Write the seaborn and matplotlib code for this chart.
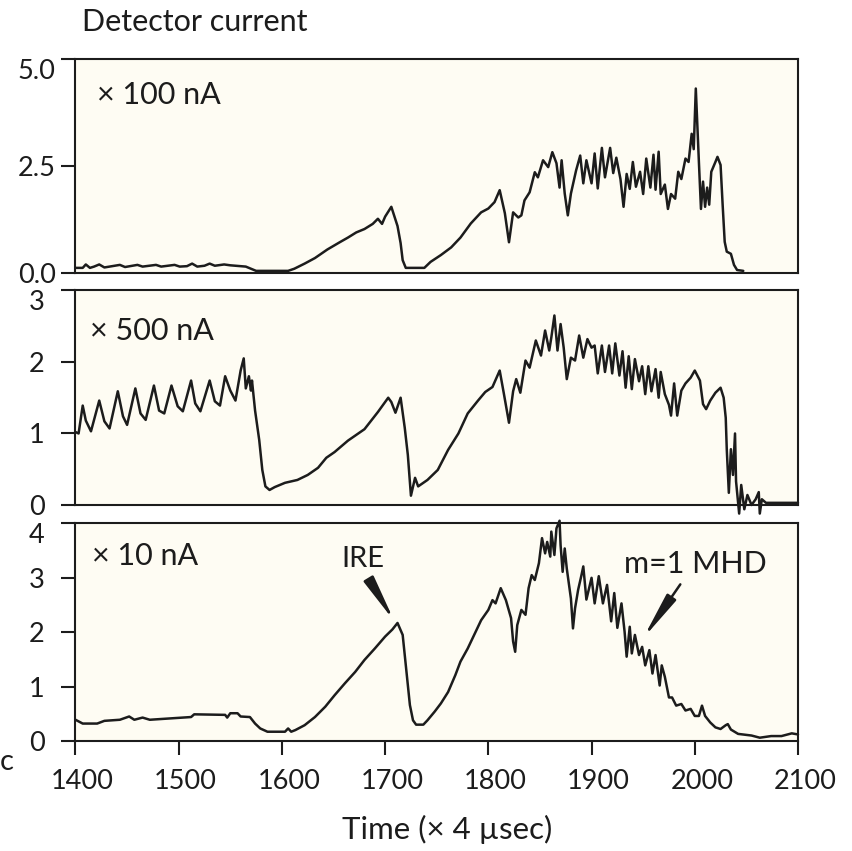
import matplotlib
matplotlib.use("Agg")
import matplotlib.pyplot as plt
import matplotlib.transforms as mtransforms
import seaborn as sns
import pandas as pd

# Detector current traces, time in units of 4 microseconds
t_100nA = [1400, 1407, 1410, 1414, 1418, 1423, 1428, 1443, 1448, 1460,
           1465, 1478, 1483, 1496, 1501, 1508, 1513, 1518, 1525, 1530,
           1535, 1544, 1550, 1565, 1575, 1606, 1612, 1622, 1632, 1644,
           1656, 1664, 1672, 1680, 1688, 1693, 1697, 1700, 1706, 1710,
           1712, 1715, 1717, 1720, 1738, 1744, 1754, 1764, 1773, 1783,
           1793, 1800, 1806, 1811, 1816, 1820, 1824, 1829, 1832, 1835,
           1840, 1845, 1848, 1853, 1858, 1862, 1866, 1869, 1871, 1874,
           1877, 1880, 1885, 1889, 1892, 1895, 1900, 1903, 1906, 1910,
           1913, 1918, 1921, 1924, 1928, 1931, 1934, 1937, 1940, 1943,
           1947, 1950, 1953, 1957, 1960, 1962, 1965, 1967, 1971, 1974,
           1977, 1981, 1984, 1987, 1991, 1994, 1997, 1999, 2001, 2004,
           2006, 2008, 2010, 2012, 2014, 2016, 2020, 2022, 2025, 2027,
           2029, 2031, 2035, 2038, 2041, 2047]
i_100nA = [0.12, 0.12, 0.20, 0.12, 0.15, 0.20, 0.13, 0.19, 0.14, 0.19,
           0.15, 0.19, 0.15, 0.19, 0.15, 0.16, 0.22, 0.15, 0.17, 0.22,
           0.17, 0.20, 0.18, 0.15, 0.05, 0.05, 0.10, 0.22, 0.35, 0.55,
           0.72, 0.83, 0.95, 1.03, 1.15, 1.27, 1.15, 1.32, 1.55, 1.25,
           1.10, 0.70, 0.30, 0.12, 0.12, 0.26, 0.42, 0.60, 0.83, 1.16,
           1.42, 1.51, 1.66, 1.94, 1.40, 0.72, 1.42, 1.30, 1.35, 1.70,
           1.89, 2.36, 2.24, 2.64, 2.48, 2.83, 2.57, 2.00, 2.64, 1.86,
           1.35, 1.86, 2.40, 2.75, 2.10, 2.64, 2.10, 2.80, 1.98, 2.93,
           2.24, 2.93, 2.34, 2.70, 2.20, 1.55, 2.32, 1.97, 2.60, 2.02,
           2.37, 1.85, 2.68, 2.00, 2.77, 1.95, 2.84, 1.85, 2.07, 1.50,
           1.85, 1.74, 2.37, 2.20, 2.68, 2.60, 3.26, 2.90, 4.32, 2.60,
           1.50, 2.14, 1.55, 2.00, 1.60, 2.37, 2.60, 2.72, 2.53, 1.60,
           0.73, 0.50, 0.45, 0.19, 0.07, 0.05]

t_500nA = [1400, 1403, 1407, 1410, 1415, 1423, 1428, 1433, 1441, 1446,
           1450, 1458, 1463, 1468, 1476, 1481, 1486, 1493, 1499, 1504,
           1512, 1516, 1521, 1530, 1535, 1540, 1545, 1550, 1555, 1560,
           1563, 1565, 1568, 1570, 1571, 1574, 1578, 1581, 1584, 1588,
           1593, 1603, 1615, 1625, 1635, 1643, 1651, 1664, 1680, 1693,
           1703, 1706, 1710, 1715, 1719, 1722, 1725, 1729, 1732, 1741,
           1751, 1761, 1771, 1780, 1790, 1797, 1804, 1811, 1815, 1820,
           1824, 1827, 1831, 1836, 1840, 1846, 1851, 1855, 1859, 1861,
           1864, 1867, 1870, 1873, 1876, 1880, 1884, 1888, 1892, 1896,
           1900, 1903, 1906, 1910, 1913, 1917, 1920, 1923, 1927, 1930,
           1933, 1936, 1939, 1942, 1946, 1949, 1952, 1955, 1958, 1962,
           1965, 1967, 1971, 1975, 1977, 1980, 1983, 1987, 1991, 1996,
           2000, 2005, 2008, 2011, 2015, 2020, 2025, 2028, 2030, 2031,
           2033, 2035, 2037, 2039, 2040, 2043, 2045, 2048, 2051, 2055,
           2059, 2062, 2063, 2065, 2069, 2100]
i_500nA = [1.02, 1.00, 1.39, 1.18, 1.03, 1.46, 1.17, 1.07, 1.59, 1.24,
           1.12, 1.63, 1.28, 1.19, 1.67, 1.32, 1.28, 1.67, 1.38, 1.31,
           1.74, 1.42, 1.31, 1.74, 1.45, 1.39, 1.80, 1.60, 1.46, 1.88,
           2.05, 1.63, 1.80, 1.60, 1.74, 1.32, 0.91, 0.49, 0.26, 0.21,
           0.25, 0.31, 0.35, 0.42, 0.52, 0.66, 0.74, 0.90, 1.06, 1.30,
           1.50, 1.44, 1.29, 1.50, 1.08, 0.70, 0.13, 0.38, 0.26, 0.35,
           0.49, 0.77, 1.00, 1.28, 1.46, 1.58, 1.65, 1.88, 1.56, 1.15,
           1.59, 1.76, 1.57, 2.02, 1.92, 2.30, 2.09, 2.44, 2.16, 2.34,
           2.65, 2.16, 2.53, 2.20, 1.76, 2.06, 2.02, 2.37, 2.06, 2.32,
           2.20, 2.23, 1.84, 2.23, 1.86, 2.23, 1.84, 2.26, 1.81, 2.15,
           1.64, 2.08, 1.62, 2.04, 1.73, 1.94, 1.55, 1.94, 1.59, 1.90,
           1.50, 1.86, 1.55, 1.40, 1.25, 1.70, 1.25, 1.60, 1.70, 1.78,
           1.88, 1.74, 1.41, 1.34, 1.46, 1.57, 1.64, 1.50, 1.22, 0.78,
           0.17, 0.78, 0.42, 1.00, 0.33, -0.12, 0.28, -0.06, 0.14, 0.00,
           0.08, 0.18, -0.12, 0.08, 0.03, 0.03]

t_10nA = [1400, 1407, 1421, 1428, 1443, 1452, 1457, 1465, 1472, 1512,
          1515, 1545, 1547, 1550, 1557, 1560, 1569, 1574, 1579, 1586,
          1603, 1606, 1609, 1613, 1622, 1632, 1642, 1651, 1661, 1671,
          1680, 1690, 1700, 1707, 1712, 1717, 1720, 1724, 1727, 1730,
          1737, 1741, 1748, 1754, 1761, 1768, 1773, 1780, 1787, 1793,
          1800, 1804, 1807, 1812, 1817, 1822, 1824, 1826, 1828, 1832,
          1836, 1839, 1842, 1845, 1849, 1852, 1855, 1857, 1860, 1861,
          1864, 1866, 1869, 1870, 1872, 1874, 1876, 1880, 1882, 1884,
          1887, 1890, 1892, 1895, 1900, 1903, 1907, 1911, 1915, 1919,
          1922, 1925, 1929, 1932, 1934, 1937, 1939, 1942, 1946, 1949,
          1952, 1956, 1959, 1962, 1966, 1968, 1971, 1975, 1978, 1982,
          1987, 1991, 1996, 2000, 2004, 2007, 2010, 2015, 2020, 2025,
          2030, 2032, 2035, 2042, 2055, 2063, 2074, 2084, 2094, 2100]
i_10nA = [0.39, 0.32, 0.32, 0.37, 0.39, 0.45, 0.39, 0.43, 0.39, 0.44,
          0.49, 0.48, 0.43, 0.51, 0.51, 0.45, 0.44, 0.32, 0.23, 0.17,
          0.17, 0.23, 0.17, 0.20, 0.29, 0.44, 0.63, 0.84, 1.06, 1.27,
          1.49, 1.70, 1.92, 2.05, 2.17, 1.95, 1.40, 0.66, 0.38, 0.30,
          0.30, 0.38, 0.54, 0.69, 0.90, 1.21, 1.46, 1.70, 1.98, 2.22,
          2.41, 2.59, 2.53, 2.81, 2.59, 2.26, 1.83, 1.64, 2.13, 2.41,
          2.32, 2.81, 3.05, 2.96, 3.27, 3.73, 3.45, 3.66, 3.39, 3.85,
          3.42, 3.91, 4.05, 3.60, 3.11, 3.54, 3.17, 2.62, 2.07, 2.44,
          2.78, 3.03, 3.21, 2.60, 3.00, 2.53, 3.03, 2.53, 2.87, 2.20,
          2.72, 2.08, 2.53, 2.01, 1.55, 2.10, 1.61, 1.95, 1.58, 1.73,
          1.39, 1.67, 1.24, 1.58, 1.02, 1.39, 1.18, 0.80, 0.80, 0.65,
          0.68, 0.56, 0.59, 0.46, 0.46, 0.65, 0.46, 0.34, 0.25, 0.22,
          0.29, 0.31, 0.21, 0.13, 0.10, 0.06, 0.09, 0.09, 0.14, 0.12]

scale_labels = ["\u00d7 100 nA", "\u00d7 500 nA", "\u00d7 10 nA"]
y_ticks = [[0.0, 2.5, 5.0], [0, 1, 2, 3], [0, 1, 2, 3, 4]]
y_tick_labels = [["0.0", "2.5", "5.0"], ["0", "1", "2", "3"], ["0", "1", "2", "3", "4"]]
y_limits = [(0, 5), (0, 3), (0, 4)]
x_ticks = [1400, 1500, 1600, 1700, 1800, 1900, 2000, 2100]

sns.set_theme(style="ticks")
plt.rcParams["font.family"] = ["Lato", "DejaVu Sans"]

INK = "#1c1c1c"
PAPER = "#fefcf3"
TICK_FS = 19.5

fig = plt.figure(figsize=(8.53, 8.51), dpi=100)
fig.patch.set_facecolor("white")

# stacked panel boxes: [left, bottom, width, height] in figure fractions
boxes = [
    [0.0885, 0.6792, 0.847, 0.2509],
    [0.0885, 0.4066, 0.847, 0.2521],
    [0.0885, 0.1293, 0.847, 0.2556],
]
label_pos = [(0.030, 0.79), (0.020, 0.767), (0.023, 0.81)]

series = [(t_100nA, i_100nA), (t_500nA, i_500nA), (t_10nA, i_10nA)]
axes = []
for k, (box, (t, cur)) in enumerate(zip(boxes, series)):
    ax = fig.add_axes(box)
    ax.set_facecolor(PAPER)
    df = pd.DataFrame({"time": t, "current": cur})
    sns.lineplot(data=df, x="time", y="current", ax=ax, color=INK,
                 linewidth=1.8, estimator=None, sort=False, clip_on=False)
    ax.set_xlim(1400, 2100)
    ax.set_ylim(*y_limits[k])
    ax.set_xlabel("")
    ax.set_ylabel("")
    ax.set_yticks(y_ticks[k])
    ax.set_yticklabels(y_tick_labels[k])
    for sp in ax.spines.values():
        sp.set_visible(True)
        sp.set_color(INK)
        sp.set_linewidth(1.5)
    ax.tick_params(axis="y", direction="out", length=10, width=1.5,
                   color=INK, labelsize=TICK_FS, labelcolor=INK, pad=18)
    labels = ax.get_yticklabels()
    for lab in labels:
        lab.set_horizontalalignment("center")
    # the topmost label hangs below its tick so it clears the panel above
    labels[-1].set_verticalalignment("top")
    ax.text(*label_pos[k], scale_labels[k], transform=ax.transAxes,
            fontsize=22, color=INK, ha="left", va="baseline")
    axes.append(ax)

for ax in axes[:2]:
    ax.tick_params(axis="x", bottom=False, labelbottom=False)

ax3 = axes[2]
ax3.set_xticks(x_ticks)
ax3.set_xticklabels([str(v) for v in x_ticks])
ax3.tick_params(axis="x", direction="out", length=10, width=1.5,
                color=INK, labelsize=TICK_FS, labelcolor=INK, pad=10)
# time labels sit a little to the right of their ticks
nudge = mtransforms.ScaledTranslation(7 / 100, 0, fig.dpi_scale_trans)
for lab in ax3.get_xticklabels():
    lab.set_transform(lab.get_transform() + nudge)
ax3.set_xlabel("Time (\u00d7 4 \u00b5sec)", fontsize=22.5, color=INK, labelpad=15)
ax3.xaxis.label.set_x(0.514)

# event markers on the 10 nA trace
arrow_style = dict(arrowstyle="-|>,head_length=2.8,head_width=0.33",
                   mutation_scale=10, color=INK, lw=1.8, shrinkA=0, shrinkB=0)
ax3.text(1678, 3.19, "IRE", fontsize=21, color=INK, ha="center", va="baseline")
ax3.annotate("", xy=(1709, 2.2), xytext=(1685, 2.95), arrowprops=arrow_style)
ax3.text(1931, 3.08, "m=1 MHD", fontsize=22, color=INK, ha="left", va="baseline")
ax3.annotate("", xy=(1950, 1.89), xytext=(1986, 2.88), arrowprops=arrow_style)

fig.text(82 / 853, 1 - 31 / 851, "Detector current", fontsize=22, color=INK,
         ha="left", va="baseline")
fig.text(0.0, 1 - 770 / 851, "c", fontsize=21, color=INK, ha="left", va="baseline")

fig.savefig("out.png", dpi=100, facecolor="white")
